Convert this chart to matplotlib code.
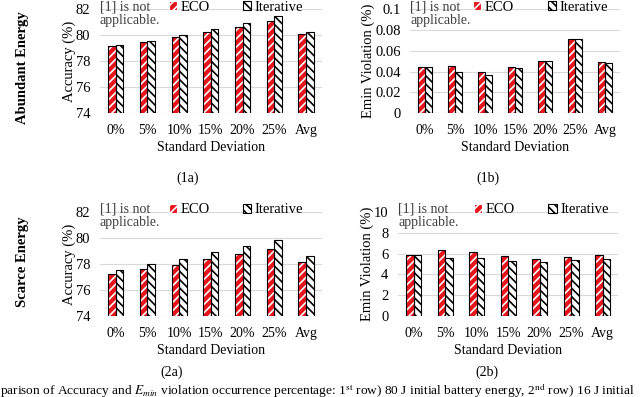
import numpy as np
import matplotlib
matplotlib.use("Agg")
import matplotlib.pyplot as plt
from matplotlib.patches import Patch
from matplotlib.transforms import offset_copy

plt.rcParams["font.family"] = ["Liberation Serif", "DejaVu Serif"]
plt.rcParams["mathtext.fontset"] = "stix"
plt.rcParams["hatch.linewidth"] = 1.2

# ── 数据 ──────────────────────────────────────────────────────────────
categories = ["0%", "5%", "10%", "15%", "20%", "25%", "Avg"]

acc_abundant_eco = [79.2, 79.5, 79.85, 80.25, 80.65, 81.1, 80.1]
acc_abundant_iter = [79.25, 79.55, 80.0, 80.45, 80.95, 81.5, 80.25]

viol_abundant_eco = [0.044, 0.045, 0.040, 0.044, 0.050, 0.071, 0.049]
viol_abundant_iter = [0.044, 0.040, 0.037, 0.043, 0.050, 0.071, 0.048]

acc_scarce_eco = [77.2, 77.6, 77.95, 78.35, 78.75, 79.15, 78.15]
acc_scarce_iter = [77.55, 78.0, 78.4, 78.9, 79.35, 79.85, 78.65]

viol_scarce_eco = [5.9, 6.3, 6.15, 5.75, 5.45, 5.65, 5.85]
viol_scarce_iter = [5.9, 5.6, 5.55, 5.3, 5.15, 5.4, 5.5]

RED = "#e8141c"
FS = 10


def draw_panel(rect, eco, it, ylim, yticks, yticklabels, ylabel, tag, tag_xy, leg_x):
    ax = fig.add_axes(rect)
    x = np.arange(len(categories))
    w = 0.24
    # ECO: red with white stripes, black outline drawn on top
    ax.bar(x - w / 2, eco, w, color=RED, edgecolor="white",
           hatch="////", linewidth=0, zorder=3)
    for xi, v in zip(x, eco):
        ax.bar(xi - w / 2, v - ylim[0], w, bottom=ylim[0], fill=False,
               edgecolor="black", linewidth=0.8, zorder=4)
    ax.bar(x + w / 2, it, w, color="white", edgecolor="black",
           hatch="\\\\\\\\", linewidth=0.8, zorder=3)
    ax.set_xlim(-0.5, len(categories) - 0.5)
    ax.set_ylim(*ylim)
    ax.set_yticks(yticks)
    ax.set_yticklabels(yticklabels, fontsize=FS + 0.5)
    ax.set_xticks(x)
    ax.set_xticklabels(categories, fontsize=FS)
    ax.tick_params(axis="x", length=0, pad=8)
    ax.tick_params(axis="y", length=0, pad=7)
    ax.yaxis.grid(True, color="#d9d9d9", linewidth=0.8, zorder=0)
    for s in ax.spines.values():
        s.set_visible(False)
    ax.set_ylabel(ylabel, fontsize=FS + 0.5, labelpad=0)
    ax.set_xlabel("Standard Deviation", fontsize=FS, labelpad=3)
    tr = offset_copy(ax.transAxes, fig=fig, x=0, y=9, units="dots")
    ax.text(0.0, 1.0, "[1] is not\napplicable.", transform=tr,
            fontsize=FS, color="#404040", va="top", ha="left",
            linespacing=1.05)
    handles = [Patch(facecolor=RED, edgecolor="white", hatch="////", label="ECO"),
               Patch(facecolor="white", edgecolor="black", hatch="\\\\\\\\", label="Iterative")]
    leg = ax.legend(handles=handles, ncol=2, frameon=False, fontsize=FS + 0.5,
                    loc="center left", bbox_to_anchor=(leg_x, 1.02),
                    handlelength=0.55, handleheight=0.55, handletextpad=0.25,
                    columnspacing=2.3, borderpad=0, borderaxespad=0)
    for h in leg.legend_handles:
        h.set_linewidth(0.8)
    fig.text(tag_xy[0] / 640, 1 - tag_xy[1] / 397, tag, ha="center",
             va="center", fontsize=FS)
    return ax


fig = plt.figure(figsize=(6.4, 3.97), dpi=100)

draw_panel([0.156, 0.715, 0.347, 0.262], acc_abundant_eco, acc_abundant_iter,
           (74, 82), [74, 76, 78, 80, 82], ["74", "76", "78", "80", "82"],
           "Accuracy (%)", "(1a)", (188, 178), 0.31)
draw_panel([0.641, 0.715, 0.328, 0.262], viol_abundant_eco, viol_abundant_iter,
           (0, 0.1), [0, 0.02, 0.04, 0.06, 0.08, 0.1],
           ["0", "0.02", "0.04", "0.06", "0.08", "0.1"],
           "Emin Violation (%)", "(1b)", (488, 178), 0.30)
draw_panel([0.156, 0.204, 0.347, 0.262], acc_scarce_eco, acc_scarce_iter,
           (74, 82), [74, 76, 78, 80, 82], ["74", "76", "78", "80", "82"],
           "Accuracy (%)", "(2a)", (172, 372), 0.31)
draw_panel([0.622, 0.204, 0.344, 0.262], viol_scarce_eco, viol_scarce_iter,
           (0, 10), [0, 2, 4, 6, 8, 10], ["0", "2", "4", "6", "8", "10"],
           "Emin Violation (%)", "(2b)", (487, 372), 0.345)

fig.text(0.035, 1 - 68 / 397, "Abundant Energy", rotation=90, fontweight="bold",
         fontsize=10.5, ha="center", va="center")
fig.text(0.035, 0.34, "Scarce Energy", rotation=90, fontweight="bold",
         fontsize=10.5, ha="center", va="center")

fig.text(0.0, 2 / 397, "parison of Accuracy and $E_{min}$ violation occurrence "
         "percentage: 1$^{\\rm st}$ row) 80 J initial battery energy, "
         "2$^{\\rm nd}$ row) 16 J initial",
         ha="left", va="baseline", fontsize=9.6)

fig.savefig("out.png", dpi=100)
